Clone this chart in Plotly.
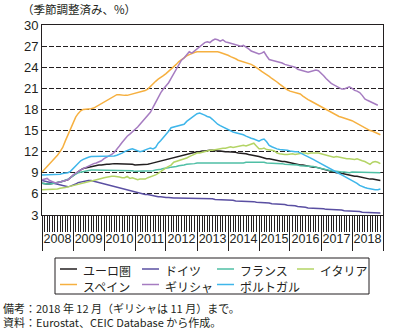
import pandas as pd
import plotly.graph_objects as go

months = pd.date_range("2008-01-01", "2018-12-01", freq="MS")

euro = [
    7.5, 7.4, 7.4, 7.4, 7.5, 7.5, 7.6, 7.7, 7.8, 7.9, 8.0, 8.3,
    8.6, 8.9, 9.2, 9.4, 9.6, 9.7, 9.8, 9.9, 10.0, 10.0, 10.1, 10.1,
    10.2, 10.2, 10.2, 10.3, 10.3, 10.3, 10.3, 10.3, 10.3, 10.3, 10.2, 10.2,
    10.1, 10.1, 10.1, 10.1, 10.1, 10.2, 10.3, 10.4, 10.5, 10.6, 10.7, 10.8,
    10.9, 11.0, 11.1, 11.2, 11.3, 11.4, 11.5, 11.6, 11.7, 11.8, 11.9, 11.9,
    12.0, 12.0, 12.1, 12.1, 12.2, 12.2, 12.2, 12.1, 12.1, 12.1, 12.0, 12.0,
    12.0, 12.0, 11.9, 11.9, 11.8, 11.8, 11.7, 11.7, 11.6, 11.5, 11.5, 11.4,
    11.3, 11.2, 11.1, 11.0, 11.0, 10.9, 10.9, 10.8, 10.7, 10.6, 10.6, 10.5,
    10.4, 10.3, 10.2, 10.2, 10.1, 10.1, 10.0, 10.0, 9.9, 9.8, 9.8, 9.7,
    9.6, 9.5, 9.4, 9.2, 9.2, 9.1, 9.0, 9.0, 8.9, 8.8, 8.7, 8.6,
    8.6, 8.5, 8.5, 8.4, 8.3, 8.2, 8.1, 8.1, 8.1, 8.0, 7.9, 7.9,
]
germany = [
    7.9, 7.8, 7.7, 7.6, 7.5, 7.4, 7.3, 7.2, 7.1, 7.0, 7.0, 7.1,
    7.2, 7.4, 7.6, 7.7, 7.8, 7.9, 7.9, 7.9, 7.8, 7.7, 7.6, 7.5,
    7.4, 7.3, 7.2, 7.1, 7.0, 6.9, 6.9, 6.8, 6.7, 6.6, 6.5, 6.4,
    6.3, 6.2, 6.1, 6.0, 5.9, 5.9, 5.8, 5.8, 5.7, 5.6, 5.6, 5.5,
    5.5, 5.5, 5.4, 5.4, 5.4, 5.4, 5.4, 5.4, 5.4, 5.4, 5.4, 5.4,
    5.4, 5.3, 5.3, 5.3, 5.3, 5.3, 5.3, 5.2, 5.2, 5.2, 5.1, 5.1,
    5.1, 5.1, 5.1, 5.0, 5.0, 5.0, 5.0, 4.9, 4.9, 4.9, 4.9, 4.8,
    4.8, 4.8, 4.7, 4.7, 4.7, 4.6, 4.6, 4.6, 4.5, 4.5, 4.5, 4.4,
    4.4, 4.3, 4.3, 4.2, 4.2, 4.1, 4.1, 4.0, 4.0, 3.9, 3.9, 3.9,
    3.9, 3.9, 3.8, 3.8, 3.8, 3.8, 3.7, 3.7, 3.7, 3.6, 3.6, 3.6,
    3.6, 3.5, 3.5, 3.5, 3.4, 3.4, 3.4, 3.4, 3.3, 3.3, 3.3, 3.3,
]
france = [
    7.5, 7.4, 7.4, 7.4, 7.5, 7.5, 7.6, 7.7, 7.8, 7.9, 8.1, 8.3,
    8.6, 8.8, 9.0, 9.1, 9.2, 9.3, 9.3, 9.4, 9.4, 9.4, 9.4, 9.4,
    9.4, 9.4, 9.4, 9.4, 9.4, 9.3, 9.3, 9.3, 9.3, 9.3, 9.3, 9.3,
    9.2, 9.2, 9.2, 9.2, 9.2, 9.2, 9.2, 9.3, 9.4, 9.4, 9.5, 9.6,
    9.6, 9.7, 9.8, 9.8, 9.9, 10.0, 10.0, 10.1, 10.2, 10.2, 10.3, 10.3,
    10.4, 10.4, 10.4, 10.4, 10.4, 10.4, 10.4, 10.4, 10.3, 10.3, 10.3, 10.3,
    10.3, 10.3, 10.3, 10.4, 10.4, 10.4, 10.4, 10.5, 10.5, 10.5, 10.6, 10.6,
    10.5, 10.5, 10.5, 10.4, 10.4, 10.4, 10.4, 10.4, 10.3, 10.3, 10.2, 10.2,
    10.2, 10.2, 10.1, 10.1, 10.0, 10.0, 10.0, 9.9, 9.9, 9.9, 9.8, 9.7,
    9.6, 9.5, 9.4, 9.3, 9.3, 9.2, 9.2, 9.1, 9.1, 9.1, 9.0, 9.0,
    9.1, 9.1, 9.1, 9.1, 9.1, 9.0, 9.0, 9.1, 9.0, 9.0, 9.0, 9.0,
]
italy = [
    6.6, 6.6, 6.6, 6.7, 6.7, 6.7, 6.7, 6.8, 6.8, 6.9, 7.0, 7.1,
    7.2, 7.3, 7.4, 7.5, 7.6, 7.7, 7.8, 7.9, 8.0, 8.1, 8.2, 8.2,
    8.3, 8.4, 8.5, 8.5, 8.5, 8.5, 8.4, 8.3, 8.3, 8.5, 8.2, 8.3,
    8.1, 8.0, 8.1, 8.1, 8.1, 8.3, 8.4, 8.5, 8.7, 8.9, 9.2, 9.5,
    9.7, 9.9, 10.1, 10.5, 10.6, 10.8, 10.9, 11.0, 11.1, 11.3, 11.5, 11.6,
    11.8, 11.8, 11.9, 12.0, 12.1, 12.2, 12.2, 12.3, 12.4, 12.4, 12.5, 12.5,
    12.6, 12.7, 12.6, 12.7, 12.8, 12.8, 12.9, 12.8, 12.9, 13.1, 13.2, 12.8,
    12.4, 12.4, 12.5, 12.3, 12.3, 12.2, 12.1, 11.8, 11.7, 11.6, 11.6, 11.6,
    11.7, 11.7, 11.6, 11.7, 11.7, 11.8, 11.8, 11.7, 11.8, 11.8, 11.9, 11.8,
    11.7, 11.6, 11.6, 11.4, 11.3, 11.2, 11.3, 11.2, 11.1, 11.1, 11.0, 11.0,
    10.9, 10.9, 11.0, 10.8, 10.7, 10.6, 10.4, 10.2, 10.5, 10.6, 10.5, 10.3,
]
spain = [
    9.1, 9.5, 9.8, 10.2, 10.6, 11.1, 11.5, 12.0, 12.6, 13.5, 14.4, 15.2,
    16.2, 16.9, 17.4, 17.8, 18.0, 18.0, 18.0, 18.1, 18.2, 18.4, 18.6, 18.8,
    19.1, 19.3, 19.5, 19.7, 19.9, 20.1, 20.1, 20.0, 20.0, 20.0, 20.1, 20.2,
    20.3, 20.4, 20.5, 20.6, 20.7, 20.9, 21.3, 21.7, 22.0, 22.3, 22.5, 22.8,
    23.1, 23.4, 23.7, 24.0, 24.4, 24.8, 25.1, 25.4, 25.6, 25.8, 26.0, 26.1,
    26.2, 26.2, 26.3, 26.3, 26.3, 26.3, 26.3, 26.3, 26.2, 26.1, 26.0, 25.9,
    25.7, 25.5, 25.4, 25.2, 25.0, 24.9, 24.8, 24.6, 24.5, 24.4, 24.2, 24.0,
    23.7, 23.4, 23.2, 22.9, 22.7, 22.4, 22.2, 21.9, 21.6, 21.3, 21.0, 20.8,
    20.6, 20.5, 20.4, 20.3, 20.2, 19.9, 19.6, 19.4, 19.2, 19.0, 18.8, 18.6,
    18.4, 18.2, 18.0, 17.8, 17.5, 17.3, 17.1, 17.0, 16.9, 16.8, 16.7, 16.6,
    16.4, 16.2, 16.0, 15.8, 15.6, 15.4, 15.2, 15.0, 14.9, 14.7, 14.6, 14.4,
]
greece = [
    8.0, 8.1, 8.2, 7.9, 7.7, 7.6, 7.6, 7.7, 7.8, 7.9, 8.0, 8.3,
    8.7, 8.9, 9.2, 9.4, 9.6, 9.8, 10.0, 10.1, 10.3, 10.4, 10.5, 10.7,
    11.0, 11.2, 11.4, 11.6, 11.9, 12.3, 12.8, 13.3, 13.8, 14.2, 14.5, 14.8,
    15.1, 15.5, 15.9, 16.3, 16.7, 17.1, 17.6, 18.3, 19.0, 19.8, 20.4, 20.9,
    21.3, 21.8, 22.4, 23.1, 23.8, 24.4, 25.0, 25.3, 25.7, 26.2, 26.0, 26.3,
    26.6, 26.9, 27.1, 27.5, 27.6, 27.5, 27.8, 28.0, 27.9, 27.7, 27.9, 27.6,
    27.5, 27.4, 27.4, 27.3, 27.1, 27.0, 27.1, 26.9, 26.6, 26.3, 26.2, 26.0,
    25.9, 26.0, 26.2, 25.6, 25.1, 25.0, 24.9, 24.8, 24.8, 24.6, 24.4, 24.3,
    24.3, 24.2, 24.0, 23.7, 23.6, 23.5, 23.4, 23.3, 23.4, 23.5, 23.6, 23.5,
    23.2, 22.8, 22.4, 22.0, 21.7, 21.5, 21.3, 21.0, 20.9, 20.9, 21.1, 21.2,
    21.0, 20.7, 20.6, 20.4, 20.0, 19.5, 19.3, 19.1, 18.9, 18.8, 18.6, None,
]
portugal = [
    8.7, 8.7, 8.7, 8.7, 8.8, 8.8, 8.8, 8.8, 8.9, 8.9, 9.0, 9.2,
    9.6, 10.0, 10.4, 10.7, 10.9, 11.1, 11.2, 11.3, 11.3, 11.3, 11.3, 11.3,
    11.3, 11.4, 11.4, 11.4, 11.4, 11.5, 11.6, 11.8, 12.0, 12.2, 12.3, 12.4,
    12.3, 12.1, 12.0, 12.1, 12.3, 12.4, 12.5, 12.4, 12.6, 13.2, 13.6, 14.0,
    14.4, 14.9, 15.4, 15.5, 15.5, 15.6, 15.7, 15.9, 16.3, 16.6, 16.9, 17.2,
    17.4, 17.5, 17.4, 17.2, 17.0, 16.9, 16.6, 16.2, 15.9, 15.7, 15.5, 15.3,
    15.2, 15.0, 14.8, 14.7, 14.6, 14.6, 14.4, 14.2, 14.0, 13.9, 13.8, 13.6,
    13.5, 13.7, 13.8, 13.4, 12.9, 12.7, 12.5, 12.4, 12.3, 12.3, 12.3, 12.2,
    12.1, 12.0, 12.0, 12.0, 11.8, 11.6, 11.4, 11.2, 11.1, 10.9, 10.7, 10.5,
    10.2, 10.0, 9.8, 9.6, 9.4, 9.2, 9.0, 8.9, 8.7, 8.5, 8.4, 8.2,
    8.0, 7.8, 7.5, 7.2, 7.0, 6.9, 6.8, 6.7, 6.6, 6.6, 6.6, 6.7,
]

series_names = ["ユーロ圏", "ドイツ", "フランス", "イタリア", "スペイン", "ギリシャ", "ポルトガル"]
series_values = [euro, germany, france, italy, spain, greece, portugal]
series_colors = ["#231f20", "#5a4fa2", "#4fbfa5", "#b3d465", "#f6b040", "#a67cc1", "#3fb6ea"]

y_ticks = list(range(3, 31, 3))
title_text = "（季節調整済み、%）"
note_lines = ["備考：2018 年 12 月（ギリシャは 11 月）まで。",
              "資料：Eurostat、CEIC Database から作成。"]

FONT = "Noto Sans CJK JP"
NUM_FONT = "Liberation Sans"
INK = "#231f20"

# page geometry (pixels) used to place paper-referenced decorations
W, H = 393, 331
ML, MR, MT, MB = 42, 10, 25, 116
PW, PH = W - ML - MR, H - MT - MB


def px(xp):
    return (xp - ML) / PW


def py(yp):
    return (H - MB - yp) / PH


fig = go.Figure()
for name, vals, col in zip(series_names, series_values, series_colors):
    fig.add_trace(go.Scatter(x=months, y=vals, name=name, mode="lines",
                             line=dict(color=col, width=1.5), showlegend=False))

# invisible trace to carry the year-label axis
fig.add_trace(go.Scatter(x=[months[0]], y=[None], xaxis="x2", showlegend=False,
                         hoverinfo="skip", mode="lines"))

x_range = ["2008-01-01", "2019-01-01"]

fig.update_layout(
    width=W, height=H,
    margin=dict(l=ML, r=MR, t=MT, b=MB, autoexpand=False),
    paper_bgcolor="white", plot_bgcolor="white",
    font=dict(family=FONT, size=12, color=INK),
    showlegend=False,
    xaxis=dict(
        type="date", range=x_range, tickmode="linear", tick0="2008-01-01", dtick="M12",
        ticks="outside", ticklen=35, tickwidth=1, tickcolor=INK,
        showticklabels=False, showgrid=False,
        showline=True, linecolor=INK, linewidth=1, mirror=True,
        minor=dict(dtick="M1", tick0="2008-01-01", ticks="outside", ticklen=16,
                   tickwidth=1, tickcolor=INK, showgrid=False),
    ),
    xaxis2=dict(
        type="date", range=x_range, overlaying="x", anchor="y", side="bottom",
        tickmode="linear", tick0="2008-01-01", dtick="M12", ticklabelmode="period",
        tickformat="%Y", ticks="outside", ticklen=12, tickcolor="rgba(0,0,0,0)",
        showgrid=False, showline=False, tickfont=dict(family=NUM_FONT, size=12.5),
    ),
    yaxis=dict(
        range=[3, 30], tickmode="array", tickvals=y_ticks,
        showgrid=True, gridcolor=INK, gridwidth=1, griddash="5px,2px",
        showline=True, linecolor=INK, linewidth=1, mirror=True,
        ticks="", tickfont=dict(family=NUM_FONT, size=13), zeroline=False,
    ),
)

# legend box drawn by hand (4 columns x 2 rows)
fig.add_shape(type="rect", xref="paper", yref="paper",
              x0=px(55), x1=px(369), y0=py(294), y1=py(258),
              line=dict(color=INK, width=1), fillcolor="white")
col_x = [60, 142, 217, 297]
row_y = [269, 284.5]
n_cols = 4
for c in range(n_cols):
    idx = list(range(c, len(series_names), n_cols))
    for r, i in enumerate(idx):
        fig.add_shape(type="line", xref="paper", yref="paper",
                      x0=px(col_x[c]), x1=px(col_x[c] + 17), y0=py(row_y[r]), y1=py(row_y[r]),
                      line=dict(color=series_colors[i], width=1.5))
    fig.add_annotation(text="<br>".join(series_names[i] for i in idx),
                       xref="paper", yref="paper", x=px(col_x[c] + 21), y=py(row_y[0] - 9),
                       xanchor="left", yanchor="top", align="left", showarrow=False,
                       font=dict(size=12))

fig.add_annotation(text=title_text, xref="paper", yref="paper", x=px(20), y=py(9),
                   xanchor="left", yanchor="middle", showarrow=False, font=dict(size=11.5))
fig.add_annotation(text="<br>".join(note_lines), xref="paper", yref="paper",
                   x=px(1), y=py(297.5), xanchor="left", yanchor="top", align="left",
                   showarrow=False, font=dict(size=11))

fig.write_html("out.html")
